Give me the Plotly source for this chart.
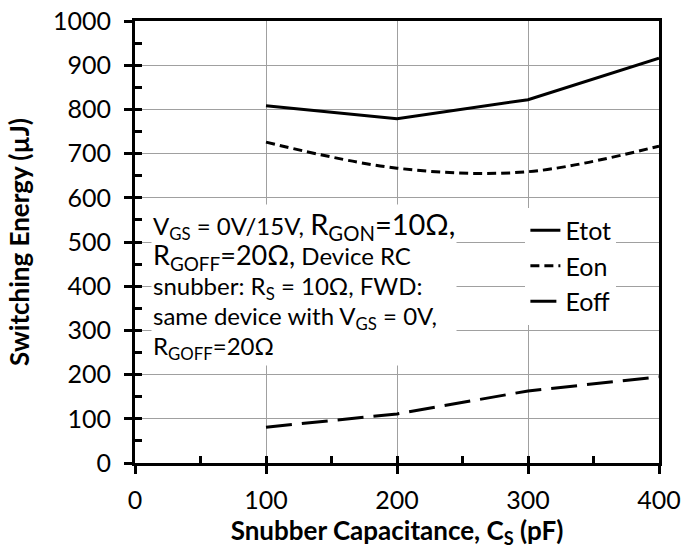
import plotly.graph_objects as go

cs = [100, 200, 300, 400]
etot = [808, 779, 822, 916]
eon = [726, 667, 659, 717]
eoff = [81, 111, 163, 195]

x_ticks = [0, 100, 200, 300, 400]
y_ticks = list(range(0, 1001, 100))

FONT = "Lato"

fig = go.Figure()
fig.add_trace(go.Scatter(x=cs, y=etot, name="Etot", mode="lines",
                         line=dict(color="black", width=3)))
fig.add_trace(go.Scatter(x=cs, y=eon, name="Eon", mode="lines",
                         line=dict(color="black", width=3, dash="9px,5px",
                                   shape="spline", smoothing=1.0)))
fig.add_trace(go.Scatter(x=cs, y=eoff, name="Eoff", mode="lines",
                         line=dict(color="black", width=3, dash="26px,10px")))

tickfont = dict(family=FONT, size=25, color="black")

fig.update_layout(
    width=684, height=550,
    margin=dict(l=135, r=25, t=21, b=87),
    paper_bgcolor="white", plot_bgcolor="white",
    font=dict(family=FONT, color="black"),
    showlegend=True,
    legend=dict(x=0.745, y=0.578, xanchor="left", yanchor="top",
                bgcolor="white", font=dict(family=FONT, size=25),
                tracegroupgap=0),
    xaxis=dict(range=[0, 400], tickvals=x_ticks, ticks="outside", ticklen=8,
               tickwidth=3, tickcolor="black", showline=True, linewidth=3,
               linecolor="black", mirror=True, showgrid=True,
               gridcolor="#a0a0a0", gridwidth=1, zeroline=False,
               tickfont=tickfont, ticklabelstandoff=5, automargin=False,
               ticklabeloverflow="allow",
               title=dict(text="<b>Snubber Capacitance, C<sub>S</sub> (pF)</b>",
                          font=dict(family=FONT, size=26), standoff=0)),
    yaxis=dict(range=[0, 1000], tickvals=y_ticks, ticks="outside", ticklen=8,
               tickwidth=3, tickcolor="black", showline=True, linewidth=3,
               linecolor="black", mirror=True, showgrid=True,
               gridcolor="#a0a0a0", gridwidth=1, zeroline=False,
               tickfont=tickfont, ticklabelstandoff=8, automargin=False,
               ticklabeloverflow="allow",
               title=dict(text="<b>Switching Energy (µJ)</b>",
                          font=dict(family=FONT, size=26), standoff=16)),
    xaxis2=dict(range=[0, 400], overlaying="x", anchor="y", tickvals=x_ticks,
                ticks="inside", ticklen=7, tickwidth=3, tickcolor="black",
                showticklabels=False, showgrid=False, zeroline=False,
                showline=False, automargin=False,
                minor=dict(dtick=50, ticks="inside", ticklen=7, tickwidth=3,
                           tickcolor="black", showgrid=False)),
    yaxis2=dict(range=[0, 1000], overlaying="y", anchor="x", tickvals=y_ticks,
                ticks="inside", ticklen=7, tickwidth=3, tickcolor="black",
                showticklabels=False, showgrid=False, zeroline=False,
                showline=False, automargin=False,
                minor=dict(dtick=50, ticks="inside", ticklen=7, tickwidth=3,
                           tickcolor="black", showgrid=False)),
)

# invisible trace so the overlay axes render
fig.add_trace(go.Scatter(x=[cs[0]], y=[etot[0]], xaxis="x2", yaxis="y2",
                         mode="markers", marker=dict(opacity=0),
                         showlegend=False, hoverinfo="skip"))

s = '<span style="font-size:24px">'
b1 = '<span style="font-size:29px">'
b2 = '<span style="font-size:27px">'
m = '<span style="font-size:24px">'
note = (
    s + "V<sub>GS</sub> = 0V/15V, </span>" + b1 + "R<sub>GON</sub>=10Ω,</span><br>"
    + b2 + "R<sub>GOFF</sub>=20Ω,</span>" + s + " Device RC</span><br>"
    + s + "snubber: R<sub>S</sub> = 10Ω, FWD:</span><br>"
    + s + "same device with V<sub>GS</sub> = 0V,</span><br>"
    + m + "R<sub>GOFF</sub>=20Ω</span>"
)
fig.add_annotation(text=note, xref="paper", yref="paper", x=0.03, y=0.585,
                   xanchor="left", yanchor="top", align="left",
                   showarrow=False, bgcolor="white", borderpad=1,
                   font=dict(family=FONT, size=23, color="black"))

fig.write_html("out.html", config={"displayModeBar": False},
               post_script="document.body.style.margin='0px';")
